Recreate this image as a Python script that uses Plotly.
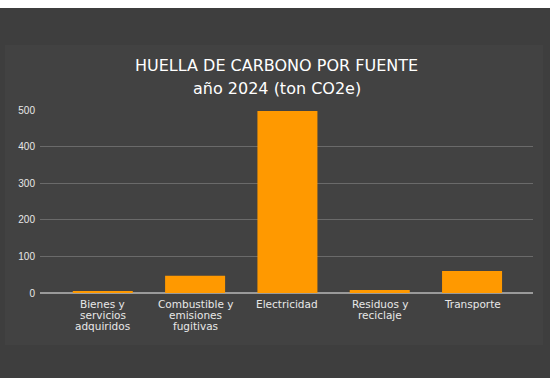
import plotly.graph_objects as go

categories = ["Bienes y servicios adquiridos", "Combustible y emisiones fugitivas",
              "Electricidad", "Residuos y reciclaje", "Transporte"]
label_lines = [["Bienes y", "servicios", "adquiridos"],
               ["Combustible y", "emisiones", "fugitivas"],
               ["Electricidad"],
               ["Residuos y", "reciclaje"],
               ["Transporte"]]
values = [3, 47, 497, 8, 60]
y_ticks = [0, 100, 200, 300, 400, 500]
title_lines = ["HUELLA DE CARBONO POR FUENTE", "año 2024 (ton CO2e)"]

FONT = "DejaVu Sans"
W, H = 550, 387
L, R, T, B = 40, 17, 110, 94
ph = H - T - B
pw = W - L - R

def py(p):  # pixel y -> paper y
    return (H - B - p) / ph

def px(p):
    return (p - L) / pw

fig = go.Figure(go.Bar(x=categories, y=values, marker=dict(color="#ff9900", line=dict(width=0)),
                       hoverinfo="x+y"))

annotations = []
for cat, lines in zip(categories, label_lines):
    for i, ln in enumerate(lines):
        annotations.append(dict(x=cat, xref="x", y=0, yref="paper", yanchor="middle",
                                yshift=-(11 + 11 * i), text=ln, showarrow=False,
                                font=dict(family=FONT, size=10.5, color="#e8e8e8")))
for i, (t, yy) in enumerate(zip(title_lines, [65, 88])):
    annotations.append(dict(x=px(276.5), xref="paper", y=py(yy), yref="paper", yanchor="middle",
                            xanchor="center", text=t, showarrow=False,
                            font=dict(family=FONT, size=16, color="#ffffff")))

shapes = [
    dict(type="rect", xref="paper", yref="paper", x0=px(5), x1=px(543), y0=py(345), y1=py(45),
         fillcolor="#424242", line=dict(width=0), layer="below"),
    dict(type="rect", xref="paper", yref="paper", x0=px(-5), x1=px(560), y0=py(8), y1=py(-5),
         fillcolor="#ffffff", line=dict(width=0)),
    dict(type="rect", xref="paper", yref="paper", x0=px(-5), x1=px(560), y0=py(395), y1=py(378),
         fillcolor="#ffffff", line=dict(width=0)),
]

fig.update_layout(
    width=W, height=H, margin=dict(l=L, r=R, t=T, b=B),
    paper_bgcolor="#3e3e3e", plot_bgcolor="rgba(0,0,0,0)",
    bargap=0.35, showlegend=False,
    annotations=annotations, shapes=shapes,
    xaxis=dict(type="category", range=[-0.68, 4.66], showticklabels=False, showgrid=False,
               zeroline=False, showline=False, ticks=""),
    yaxis=dict(range=[0, 500], tickvals=y_ticks, showgrid=True, gridcolor="#6a6a6a", gridwidth=1,
               zeroline=True, zerolinecolor="#9a9a9a", zerolinewidth=2, showline=False, ticks="",
               ticklabelstandoff=4,
               tickfont=dict(family="Liberation Sans", size=10, color="#e8e8e8")),
)

fig.write_html("out.html", config={"displayModeBar": False},
               post_script="document.body.style.margin='0';document.body.style.overflow='hidden';")
